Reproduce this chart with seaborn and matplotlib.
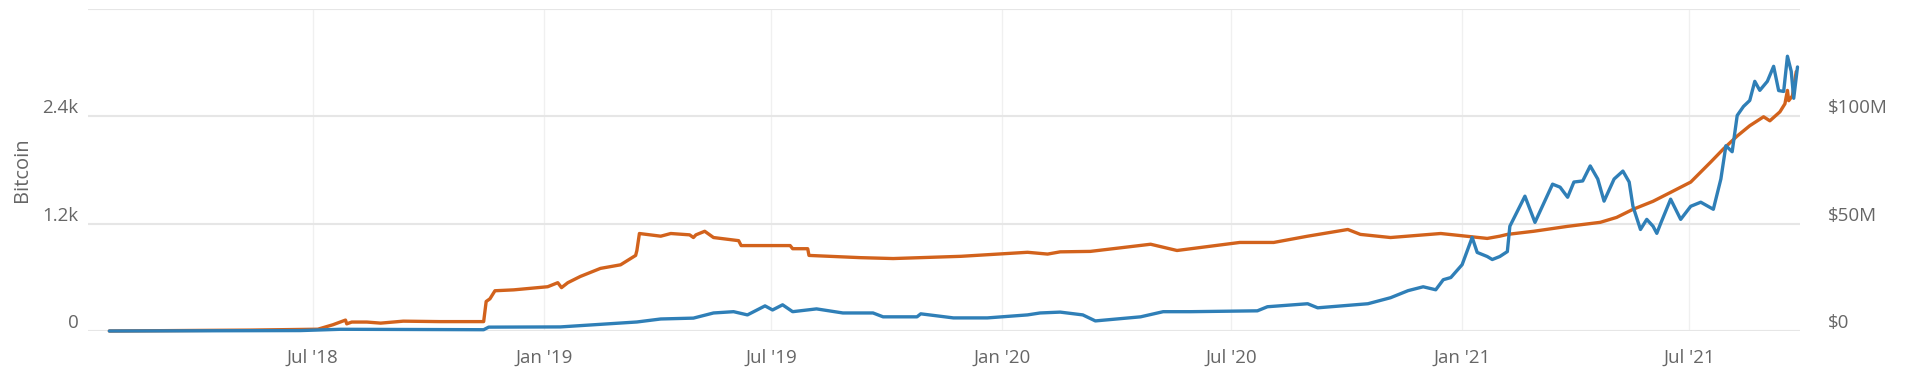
import matplotlib
matplotlib.use("Agg")
import matplotlib.pyplot as plt
import matplotlib.dates as mdates
import matplotlib.transforms as mtransforms
import pandas as pd
import seaborn as sns

# Bitcoin held (left axis)
btc_dates = [
    "2018-01-20", "2018-05-12", "2018-07-05", "2018-07-17", "2018-07-27", "2018-07-28",
    "2018-08-01", "2018-08-13", "2018-08-24", "2018-09-11", "2018-10-10", "2018-11-14",
    "2018-11-16", "2018-11-19", "2018-11-23", "2018-12-08", "2019-01-04", "2019-01-12",
    "2019-01-15", "2019-01-20", "2019-01-30", "2019-02-15", "2019-03-03", "2019-03-15",
    "2019-03-16", "2019-03-18", "2019-04-04", "2019-04-12", "2019-04-27", "2019-04-30",
    "2019-05-02", "2019-05-09", "2019-05-16", "2019-06-05", "2019-06-07", "2019-07-16",
    "2019-07-18", "2019-07-30", "2019-07-31", "2019-09-10", "2019-10-06", "2019-11-29",
    "2020-01-21", "2020-02-06", "2020-02-16", "2020-03-11", "2020-04-28", "2020-05-19",
    "2020-07-08", "2020-08-04", "2020-08-31", "2020-10-02", "2020-10-12", "2020-11-05",
    "2020-12-15", "2021-01-21", "2021-01-31", "2021-02-06", "2021-02-27", "2021-03-26",
    "2021-04-21", "2021-05-04", "2021-05-17", "2021-06-02", "2021-06-16", "2021-07-02",
    "2021-07-18", "2021-07-28", "2021-08-08", "2021-08-18", "2021-08-29", "2021-09-03",
    "2021-09-11", "2021-09-15", "2021-09-17", "2021-09-18", "2021-09-21", "2021-09-24",
]
btc_held = [
    0, 10, 20, 70, 122, 80,
    100, 100, 88, 110, 105, 105,
    330, 360, 450, 460, 495, 540,
    485, 540, 610, 700, 740, 845,
    900, 1090, 1060, 1090, 1075, 1045,
    1075, 1115, 1045, 1010, 955, 955,
    920, 920, 845, 820, 810, 835,
    880, 860, 885, 890, 970, 900,
    990, 990, 1060, 1135, 1080, 1045,
    1090, 1035, 1060, 1080, 1115, 1170,
    1215, 1270, 1360, 1450, 1550, 1665,
    1890, 2035, 2180, 2295, 2395, 2350,
    2450, 2540, 2690, 2575, 2630, 2900,
]

# USD value of holdings, millions (right axis)
usd_dates = [
    "2018-01-20", "2018-06-21", "2018-07-23", "2018-11-14", "2018-11-18", "2019-01-14",
    "2019-03-16", "2019-04-04", "2019-04-30", "2019-05-16", "2019-06-01", "2019-06-12",
    "2019-06-26", "2019-07-02", "2019-07-10", "2019-07-18", "2019-08-06", "2019-08-27",
    "2019-09-20", "2019-09-28", "2019-10-25", "2019-10-28", "2019-11-23", "2019-12-20",
    "2020-01-21", "2020-01-31", "2020-02-16", "2020-03-05", "2020-03-15", "2020-04-20",
    "2020-05-08", "2020-05-30", "2020-07-22", "2020-07-30", "2020-08-31", "2020-09-08",
    "2020-10-18", "2020-11-05", "2020-11-19", "2020-12-01", "2020-12-11", "2020-12-17",
    "2020-12-23", "2021-01-01", "2021-01-09", "2021-01-13", "2021-01-21", "2021-01-25",
    "2021-01-31", "2021-02-06", "2021-02-08", "2021-02-20", "2021-02-28", "2021-03-04",
    "2021-03-14", "2021-03-20", "2021-03-26", "2021-03-31", "2021-04-07", "2021-04-13",
    "2021-04-19", "2021-04-24", "2021-05-02", "2021-05-09", "2021-05-14", "2021-05-17",
    "2021-05-23", "2021-05-28", "2021-06-02", "2021-06-05", "2021-06-08", "2021-06-16",
    "2021-06-24", "2021-07-02", "2021-07-10", "2021-07-20", "2021-07-26", "2021-07-30",
    "2021-08-04", "2021-08-08", "2021-08-13", "2021-08-18", "2021-08-22", "2021-08-26",
    "2021-09-01", "2021-09-06", "2021-09-10", "2021-09-14", "2021-09-17", "2021-09-20",
    "2021-09-22", "2021-09-25",
]
usd_value = [
    0, 0.2, 0.8, 0.6, 1.8, 1.9,
    4.2, 5.6, 6.0, 8.4, 9.0, 7.5,
    11.7, 9.8, 12.2, 9.0, 10.3, 8.4,
    8.4, 6.6, 6.6, 8.0, 6.1, 6.1,
    7.5, 8.4, 8.8, 7.5, 4.7, 6.6,
    9.0, 9.0, 9.4, 11.3, 12.7, 10.8,
    12.7, 15.5, 18.8, 20.6, 19.2, 23.9,
    24.9, 30.9, 43.6, 36.6, 34.7, 33.3,
    34.7, 37.0, 48.8, 62.8, 50.6, 55.7,
    68.4, 67.0, 62.3, 69.4, 69.9, 76.9,
    70.8, 60.5, 70.8, 74.5, 69.4, 58.1,
    47.3, 52.0, 48.8, 45.5, 50.0, 61.4,
    52.0, 58.1, 60.0, 56.7, 70.8, 86.3,
    83.5, 100.4, 104.6, 107.4, 116.3, 112.1,
    116.3, 123.3, 112.0, 111.6, 128.0, 121.0,
    108.4, 123.0,
]

ORANGE = "#d2621c"
BLUE = "#2f7fb7"
GREY = "#666666"

btc_df = pd.DataFrame({"date": pd.to_datetime(btc_dates), "btc": btc_held})
usd_df = pd.DataFrame({"date": pd.to_datetime(usd_dates), "usd": usd_value})

sns.set_theme(style="white")
plt.rcParams["font.family"] = ["Open Sans", "DejaVu Sans"]

W, H = 1905, 387
fig = plt.figure(figsize=(W / 100, H / 100), dpi=100)
ax = fig.add_axes([88 / W, (H - 331) / H, (1800 - 88) / W, (331 - 9) / H])
ax2 = ax.twinx()

sns.lineplot(data=btc_df, x="date", y="btc", ax=ax, color=ORANGE, linewidth=2.4)
sns.lineplot(data=usd_df, x="date", y="usd", ax=ax2, color=BLUE, linewidth=2.4)
for l in ax.lines + ax2.lines:
    l.set_clip_on(False)
    l.set_solid_joinstyle("round")

ax.set_xlim(pd.Timestamp("2018-01-03"), pd.Timestamp("2021-09-27"))
ax.set_ylim(0, 3600)
ax2.set_ylim(0, 150)

ax.xaxis.set_major_locator(mdates.MonthLocator(bymonth=[1, 7]))
ax.xaxis.set_major_formatter(mdates.DateFormatter("%b '%y"))

ax.set_yticks([0, 1200, 2400, 3600], ["0", "1.2k", "2.4k", ""])
ax2.set_yticks([0, 50, 100, 150], ["$0", "$50M", "$100M", ""])

ax.grid(axis="y", color="#e6e6e6", linewidth=1.5)
ax.grid(axis="x", color="#f0f0f0", linewidth=1.0)
ax2.grid(False)
ax.set_axisbelow(True)

for a in (ax, ax2):
    for s in a.spines.values():
        s.set_visible(False)
    a.set_xlabel("")

ax.tick_params(axis="y", length=0, labelsize=13.5, labelcolor=GREY, pad=7)
ax.tick_params(axis="x", length=0, labelsize=13.5, labelcolor=GREY, pad=13)
ax2.tick_params(axis="y", length=0, labelsize=13.5, labelcolor=GREY, pad=20)

# plotly-style labels sit just above their gridline
shift = mtransforms.ScaledTranslation(0, 0.1, fig.dpi_scale_trans)
for lbl in ax.get_yticklabels() + ax2.get_yticklabels():
    lbl.set_transform(lbl.get_transform() + shift)

ax.set_ylabel("Bitcoin", color=GREY, fontsize=14.5)
ax.yaxis.set_label_coords(-0.033, 0.5)
ax2.set_ylabel("")

fig.savefig("out.png", dpi=100, facecolor="white")
